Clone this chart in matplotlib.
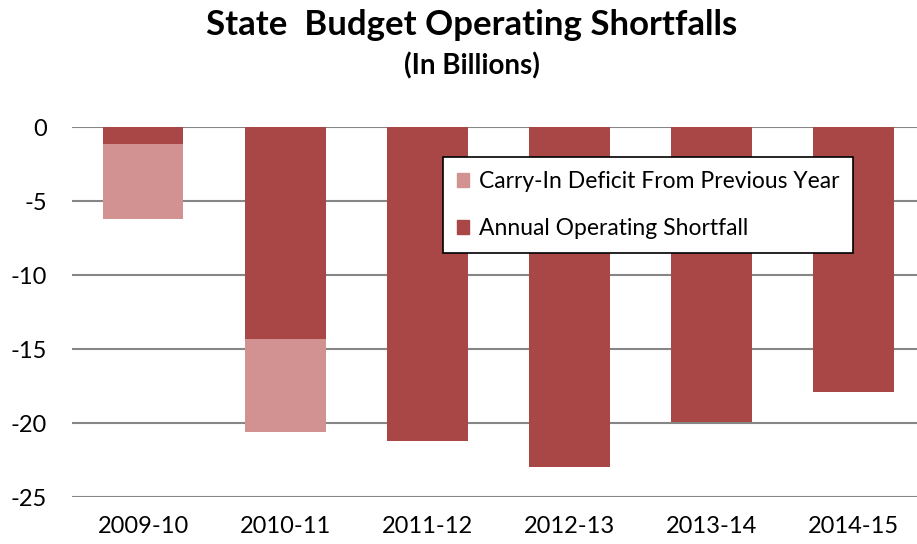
import matplotlib.pyplot as plt
from matplotlib.patches import Patch

years = ['2009-10', '2010-11', '2011-12', '2012-13', '2013-14', '2014-15']
annual = [-1.15, -14.3, -21.2, -23.0, -19.9, -17.9]
carry_in = [-5.05, -6.3, 0, 0, 0, 0]

dark = '#A94646'
light = '#D39292'

plt.rcParams['font.family'] = ['Lato', 'DejaVu Sans']
plt.rcParams['axes.unicode_minus'] = False

fig = plt.figure(figsize=(9.17, 5.44), dpi=100)
ax = fig.add_axes([72 / 917, 47 / 544, 845 / 917, 370 / 544])

x = list(range(len(years)))
ax.bar(x, annual, width=0.57, color=dark, zorder=3)
ax.bar(x, carry_in, width=0.57, bottom=annual, color=light, zorder=3)

ax.set_xlim(-0.5, 5.45)
ax.set_ylim(-25, 0)
ax.set_yticks([0, -5, -10, -15, -20, -25])
ax.set_xticks(x)
ax.set_xticklabels(years)
ax.tick_params(axis='both', length=0, labelsize=17, colors='black')
ax.tick_params(axis='y', pad=18)
ax.tick_params(axis='x', pad=14)
ax.yaxis.grid(True, color='#868686', linewidth=1.5, zorder=0)
ax.set_axisbelow(True)
for s in ax.spines.values():
    s.set_visible(False)

handles = [Patch(color=light, label='Carry-In Deficit From Previous Year'),
           Patch(color=dark, label='Annual Operating Shortfall')]
leg = ax.legend(handles=handles, loc='upper left',
                bbox_to_anchor=((443 - 72) / 845, (497 - 157) / 370),
                fontsize=16.5, frameon=True, fancybox=False, edgecolor='black',
                framealpha=1, handlelength=0.55, handleheight=0.55,
                handletextpad=0.4, labelspacing=1.15, borderpad=0.6,
                borderaxespad=0)
leg.get_frame().set_linewidth(1.2)

fig.text(472 / 917, 1 - 25 / 544, 'State  Budget Operating Shortfalls',
         ha='center', va='center', fontsize=25, fontweight='bold')
fig.text(472 / 917, 1 - 66 / 544, '(In Billions)',
         ha='center', va='center', fontsize=20, fontweight='bold')

fig.savefig('out.png', dpi=100)
